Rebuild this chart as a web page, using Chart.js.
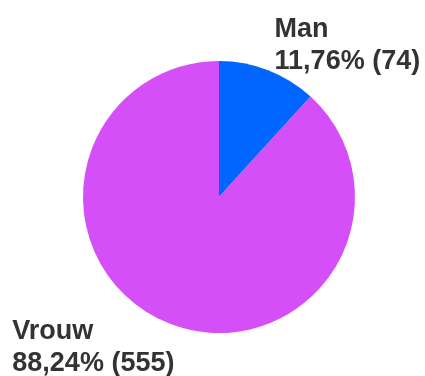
<!DOCTYPE html>
<html>
<head>
<meta charset="utf-8">
<script src="https://cdn.jsdelivr.net/npm/chart.js@4/dist/chart.umd.min.js"></script>
<style>
  html, body { margin: 0; padding: 0; background: #ffffff; }
  #wrap { width: 425px; height: 376px; position: relative; }
</style>
</head>
<body>
<div id="wrap"><canvas id="c" width="425" height="376"></canvas></div>
<script>
// Gender split of respondents
const categories = ['Man', 'Vrouw'];
const counts = [74, 555];
const sliceColors = ['#0066ff', '#d44ff8'];

const total = counts.reduce((a, b) => a + b, 0);
const pctText = v => (v / total * 100).toFixed(2).replace('.', ',') + '%';

// Two-line labels placed just outside each slice
const outsideLabels = {
  id: 'outsideLabels',
  afterDatasetsDraw(chart) {
    const ctx = chart.ctx;
    const meta = chart.getDatasetMeta(0);
    const fontSize = 27;
    const lineH = 32;
    ctx.save();
    ctx.font = 'bold ' + fontSize + 'px "Liberation Sans", Arial, sans-serif';
    ctx.fillStyle = '#333333';
    ctx.textBaseline = 'alphabetic';
    ctx.textAlign = 'left';
    meta.data.forEach((arc, i) => {
      const p = arc.getProps(['x', 'y', 'startAngle', 'endAngle', 'outerRadius'], true);
      const mid = (p.startAngle + p.endAngle) / 2;
      const r = p.outerRadius + 4;
      const ax = p.x + Math.cos(mid) * r;
      const ay = p.y + Math.sin(mid) * r;
      const lines = [categories[i], pctText(counts[i]) + ' (' + counts[i] + ')'];
      const w = Math.max(...lines.map(t => ctx.measureText(t).width));
      const left = Math.cos(mid) >= 0 ? ax + 5 : ax + 6 - w;
      const firstBase = Math.sin(mid) < 0
        ? ay + 2.5 - (lines.length - 1) * lineH
        : ay + 11.5;
      lines.forEach((t, k) => ctx.fillText(t, left, firstBase + k * lineH));
    });
    ctx.restore();
  }
};

new Chart(document.getElementById('c'), {
  type: 'pie',
  data: {
    labels: categories,
    datasets: [{
      data: counts,
      backgroundColor: sliceColors,
      borderWidth: 0
    }]
  },
  options: {
    responsive: false,
    animation: false,
    layout: { padding: { top: 61, bottom: 43, left: 13, right: 0 } },
    plugins: {
      legend: { display: false },
      tooltip: { enabled: false }
    }
  },
  plugins: [outsideLabels]
});
</script>
</body>
</html>
